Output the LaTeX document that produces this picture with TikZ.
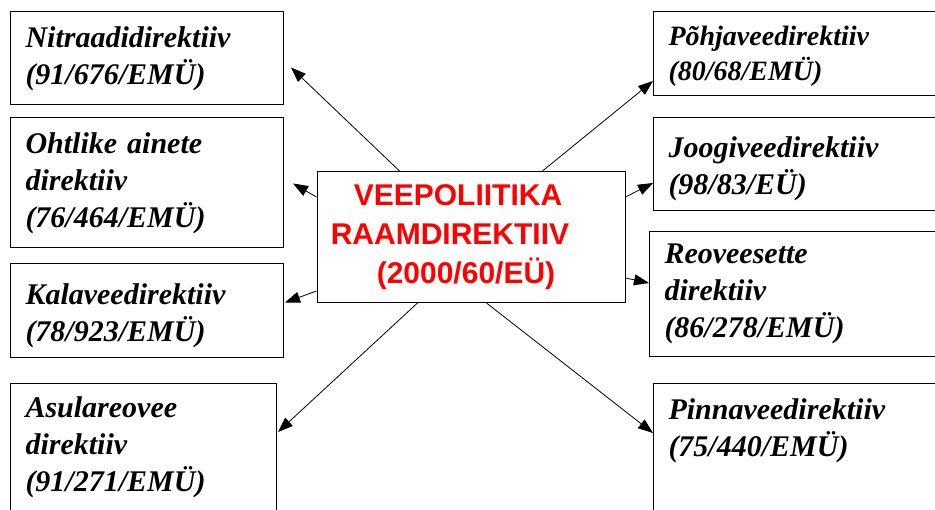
\documentclass[tikz,border=0pt]{standalone}
\usepackage{fontspec}
\setmainfont{Liberation Serif}
\setsansfont{Liberation Sans}
\usetikzlibrary{arrows.meta,calc}

\begin{document}
\begin{tikzpicture}[x=1pt,y=-1pt,
  direktiiv/.style 2 args={draw,line width=1pt,anchor=north west,align=left,
    text width=243pt,inner xsep=15pt,inner ysep=12pt,text height=#1,text depth=#2,
    font=\fontsize{30}{37}\selectfont\bfseries\itshape},
  raam/.style={draw,line width=1pt,align=center,minimum width=308pt,minimum height=131pt,
    text=red,font=\fontsize{30}{39}\selectfont\sffamily\bfseries},
  nool/.style={line width=0.8pt,-{Triangle[length=15pt,width=11pt]}}]
\useasboundingbox (0,0) rectangle (935,510);
\node[raam] (raam) at (471,237) {\mbox{VEEPOLIITIKA\hspace{26pt}}\\\mbox{RAAMDIREKTIIV\hspace{42pt}}\\\mbox{(2000/60/EÜ)\hspace{10pt}}};
\node[direktiiv={24pt}{45pt}] (nitr) at (10,11) {Nitraadidirektiiv\\(91/676/EMÜ)};
\node[direktiiv={24pt}{82pt}] (ohtl) at (10,117) {Ohtlike ainete\\direktiiv\\(76/464/EMÜ)};
\node[direktiiv={29pt}{41pt}] (kala) at (10,263) {Kalaveedirektiiv\\(78/923/EMÜ)};
\node[direktiiv={22pt}{150pt},text width=236pt] (asul) at (10,383) {Asulareovee\\direktiiv\\(91/271/EMÜ)};
\node[direktiiv={22pt}{38pt},text width=270pt,font=\fontsize{28}{35}\selectfont\bfseries\itshape] (pohj) at (653,11) {Põhjaveedirektiiv\\(80/68/EMÜ)};
\node[direktiiv={28pt}{41pt},text width=270pt] (joog) at (653,117) {Joogiveedirektiiv\\(98/83/EÜ)};
\node[direktiiv={20pt}{81pt},text width=270pt] (reov) at (649,231) {Reoveesette\\direktiiv\\(86/278/EMÜ)};
\node[direktiiv={24pt}{150pt},text width=270pt] (pinn) at (653,383) {Pinnaveedirektiiv\\(75/440/EMÜ)};
\draw[nool] ($(raam.north west)+(83,0)$) -- ($(nitr.east)+(7,9.5)$);
\draw[nool] ($(raam.north west)+(0,26)$) -- ($(ohtl.east)+(9,1)$);
\draw[nool] ($(raam.south west)+(0,-12)$) -- ($(kala.east)+(1,-8)$);
\draw[nool] ($(raam.south west)+(101,0)$) -- ($(asul.north east)+(1,49)$);
\draw[nool] ($(raam.north east)+(-83,0)$) -- ($(pohj.north west)+(0,70)$);
\draw[nool] ($(raam.north east)+(0,26)$) -- ($(joog.north west)+(0,66)$);
\draw[nool] ($(raam.south east)+(0,-25)$) -- ($(reov.north west)+(0,52)$);
\draw[nool] ($(raam.south west)+(170,0)$) -- ($(pinn.north west)+(0,50)$);
\end{tikzpicture}
\end{document}
